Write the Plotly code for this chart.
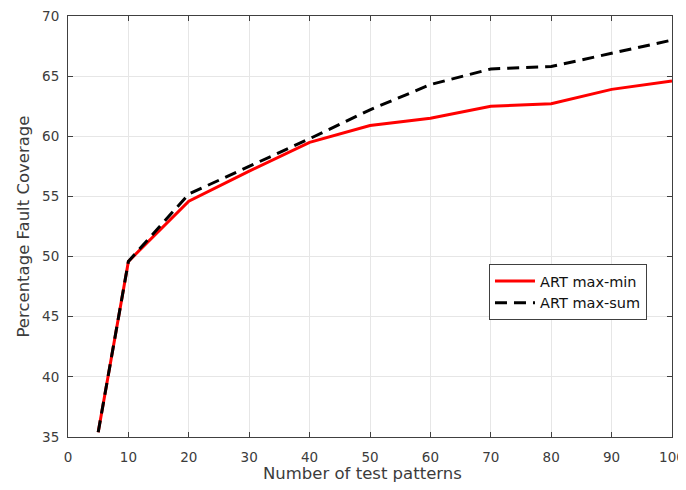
import plotly.graph_objects as go

x_vals = [5, 10, 20, 30, 40, 50, 60, 70, 80, 90, 100]
max_min = [35.4, 49.6, 54.6, 57.1, 59.5, 60.9, 61.5, 62.5, 62.7, 63.9, 64.6]
max_sum = [35.4, 49.6, 55.2, 57.5, 59.8, 62.2, 64.3, 65.6, 65.8, 66.9, 68.0]
x_ticks = [0, 10, 20, 30, 40, 50, 60, 70, 80, 90, 100]
y_ticks = [35, 40, 45, 50, 55, 60, 65, 70]

FONT = "DejaVu Sans"
TXT = "#3c3c3c"
W, H = 686, 490
L, R, T, B = 60, 22, 8, 61

fig = go.Figure()
fig.add_trace(go.Scatter(x=x_vals, y=max_min, mode="lines", name="ART max-min",
                         line=dict(color="#ff0000", width=3)))
fig.add_trace(go.Scatter(x=x_vals, y=max_sum, mode="lines", name="ART max-sum",
                         line=dict(color="#000000", width=3, dash="12px,7px")))

axis_common = dict(showgrid=True, gridcolor="#e6e6e6", gridwidth=1,
                   showline=True, linecolor="#404040", linewidth=1, mirror="ticks",
                   ticks="inside", ticklen=5, tickcolor="#404040",
                   tickfont=dict(family=FONT, size=13.5, color=TXT),
                   ticklabeloverflow="allow",
                   zeroline=False, automargin=False)

pw, ph = W - L - R, H - T - B

fig.update_layout(
    width=W, height=H,
    paper_bgcolor="white", plot_bgcolor="white",
    margin=dict(l=L, r=R, t=T, b=B),
    font=dict(family=FONT, color=TXT),
    xaxis=dict(range=[0, 100], tickvals=x_ticks, ticklabelstandoff=8, **axis_common),
    yaxis=dict(range=[35, 70], tickvals=y_ticks, ticklabelstandoff=5, **axis_common),
    legend=dict(x=0.697, y=0.411, xanchor="left", yanchor="top",
                bgcolor="white", bordercolor="#404040", borderwidth=1,
                font=dict(family=FONT, size=14.5, color="#111111"), tracegroupgap=0,
                itemwidth=40),
    showlegend=True,
    annotations=[
        dict(text="Number of test patterns", xref="paper", yref="paper",
             x=(362.5 - 8 - L) / pw, y=-(473 - 8 - (T + ph)) / ph,
             xanchor="center", yanchor="middle", showarrow=False,
             font=dict(family=FONT, size=16.5, color=TXT)),
        dict(text="Percentage Fault Coverage", xref="paper", yref="paper",
             x=(23 - 8 - L) / pw, y=0.5, textangle=-90,
             xanchor="center", yanchor="middle", showarrow=False,
             font=dict(family=FONT, size=16.5, color=TXT)),
    ],
)

fig.write_html("out.html")
